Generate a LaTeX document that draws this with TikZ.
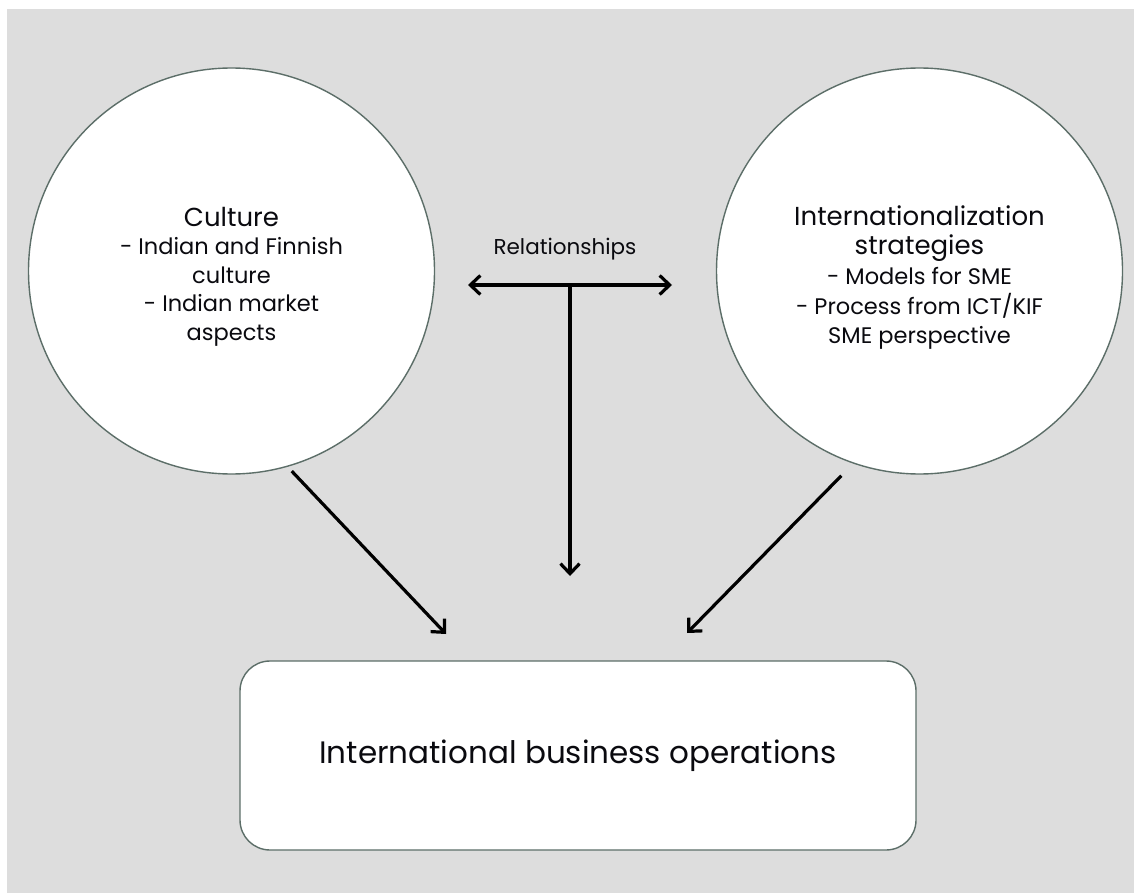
\documentclass[tikz,border=0pt]{standalone}
\usepackage{fontspec}
\setmainfont{Poppins}
\usetikzlibrary{arrows.meta}
\definecolor{bg}{RGB}{221,221,221}
\definecolor{edge}{RGB}{92,110,104}
\definecolor{ink}{RGB}{10,10,15}
\tikzset{
  bubble/.style={circle, draw=edge, line width=1.4pt, fill=white, minimum size=406pt, inner sep=0pt},
  bubbletext/.style={align=center, text=ink, inner sep=0pt},
  outcome/.style={rectangle, rounded corners=30pt, draw=edge, line width=1.4pt, fill=white, minimum width=676pt, minimum height=189pt, inner sep=0pt, align=center, text=ink},
  tip/.tip={Straight Barb[length=10pt,width=19pt,line width=3.2pt]},
  arr/.style={line width=3.2pt, -tip},
  darr/.style={line width=3.2pt, tip-tip},
}
\newcommand{\headfont}{\fontsize{26}{29}\selectfont}
\begin{document}
\begin{tikzpicture}[x=1pt,y=-1pt]
\useasboundingbox (0,0) rectangle (1134,893);
\fill[white] (0,0) rectangle (1134,893);
\fill[bg] (7,9) rectangle (1134,893);

\node[bubble] (cult) at (231.5,271) {};
\node[bubble] (strat) at (919.5,271) {};
\node[bubbletext, font=\fontsize{22.5}{28.5}\selectfont] (culttext) at ([yshift=-5.5pt]cult.center) {{\headfont Culture}\\- Indian and Finnish\\culture\\- Indian market\\aspects};
\node[bubbletext, font=\fontsize{22.5}{29.7}\selectfont] (strattext) at ([yshift=-6.5pt]strat.center) {{\headfont Internationalization}\\{\headfont strategies}\\- Models for SME\\- Process from ICT/KIF\\SME perspective};
\node[outcome, font=\fontsize{31}{36}\selectfont] (ibo) at (578,755.5) {International business operations};

\node[text=ink, font=\fontsize{21.5}{26}\selectfont] (rel) at (565,249) {Relationships};

\coordinate (rl) at (468,285);
\coordinate (rr) at (672,285);
\coordinate (rm) at (570,285);
\coordinate (vt) at (570,576);
\coordinate (lt) at (446,634);
\coordinate (rt) at (687,633);

\draw[darr] (rl) -- (rr);
\draw[arr] (rm) -- (vt);
\draw[arr, shorten <=6pt] (cult.-74) -- (lt);
\draw[arr, shorten <=17pt] (strat.-109.5) -- (rt);
\end{tikzpicture}
\end{document}
